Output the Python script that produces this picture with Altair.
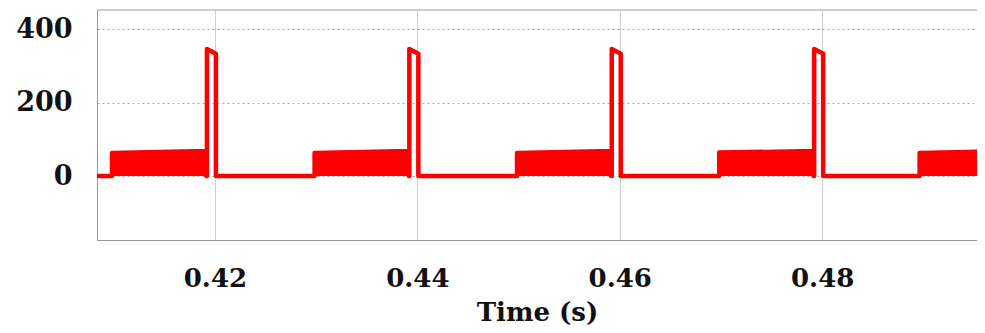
import altair as alt
import pandas as pd

# Per-cycle breakpoints (time in s, value)
block_on = [0.40983, 0.42985, 0.44985, 0.46983, 0.48963]
block_off = [0.41915, 0.43916, 0.45916, 0.47915, 0.49915]
block_top_start = [63, 63, 63, 64, 63]
block_top_end = [68, 68, 68, 68, 68]
spike_on = [0.41921, 0.43921, 0.45921, 0.47921, 0.49921]
spike_off = [0.42010, 0.44010, 0.46010, 0.48010, 0.50010]
spike_top_start = [346, 346, 346, 346, 346]
spike_top_end = [333, 333, 333, 333, 333]

x_ticks = [0.42, 0.44, 0.46, 0.48]
y_ticks = [0, 200, 400]
x_domain = [0.40835, 0.49530]
y_domain = [-174, 452]

# waveform outline
t_line, v_line = [x_domain[0]], [0]
for i in range(len(block_on)):
    t_line += [block_on[i], block_on[i], block_off[i], block_off[i],
               spike_on[i], spike_on[i], spike_off[i], spike_off[i]]
    v_line += [0, block_top_start[i], block_top_end[i], 0,
               0, spike_top_start[i], spike_top_end[i], 0]
line_df = pd.DataFrame({"t": t_line, "v": v_line, "o": range(len(t_line))})

# filled switching blocks
t_area, v_area, g_area = [], [], []
for i in range(len(block_on)):
    t_area += [block_on[i], block_off[i]]
    v_area += [block_top_start[i], block_top_end[i]]
    g_area += [i, i]
area_df = pd.DataFrame({"t": t_area, "v": v_area, "g": g_area})

W, H = 880, 230
RED = "#ff0000"
FONT = "DejaVu Serif"

xscale = alt.Scale(domain=x_domain, nice=False, zero=False)
yscale = alt.Scale(domain=y_domain, nice=False, zero=False)

x_axis = alt.Axis(values=x_ticks, format=".2f", title="Time (s)", grid=True,
                  gridColor="#cfcfcf", gridWidth=1, ticks=False, domainColor="#9a9a9a",
                  labelFont=FONT, labelFontSize=26, labelFontWeight="bold", labelColor="#111",
                  labelPadding=25, titleFont=FONT, titleFontSize=26, titleFontWeight="bold",
                  titleColor="#111", titlePadding=8, labelFlush=False)
y_axis = alt.Axis(values=y_ticks, title=None, grid=True, gridColor="#a8a8a8",
                  gridDash=[2, 3], gridWidth=1, ticks=False, domainColor="#9a9a9a",
                  labelFont=FONT, labelFontSize=27, labelFontWeight="bold", labelColor="#111",
                  labelPadding=25)

area = alt.Chart(area_df).mark_area(color=RED, clip=True, interpolate="linear").encode(
    x=alt.X("t:Q", scale=xscale, axis=x_axis),
    y=alt.Y("v:Q", scale=yscale, axis=y_axis),
    y2=alt.datum(0),
    detail="g:N",
)

line = alt.Chart(line_df).mark_line(color=RED, strokeWidth=4.5, clip=True,
                                    strokeJoin="round").encode(
    x=alt.X("t:Q", scale=xscale),
    y=alt.Y("v:Q", scale=yscale),
    order="o:Q",
)

top_border = alt.Chart(pd.DataFrame({"a": [0]})).mark_rule(color="#9a9a9a", strokeWidth=1).encode(
    x=alt.value(0), x2=alt.value(W), y=alt.value(0)
)

chart = alt.layer(area, line, top_border).properties(
    width=W, height=H,
    autosize=alt.AutoSizeParams(type="none"),
    padding={"left": 89, "top": 2, "right": 0, "bottom": 85},
    background="white",
).configure_view(stroke=None)

chart.save("out.html", embed_options={"renderer": "svg", "actions": False})
